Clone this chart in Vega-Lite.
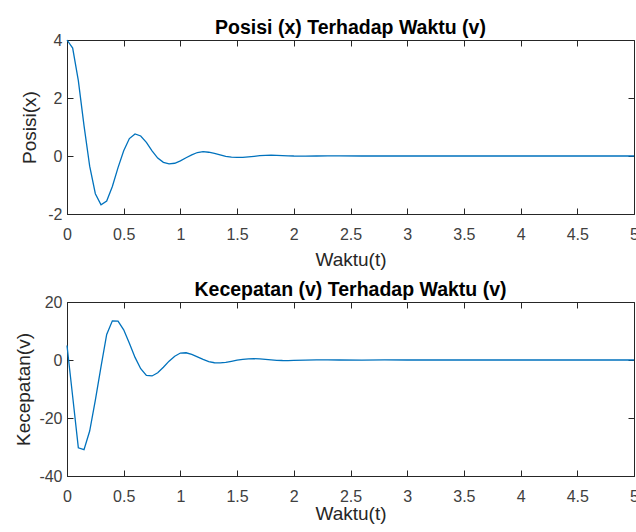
{
  "$schema": "https://vega.github.io/schema/vega-lite/v6.json",
  "autosize": {"type": "none"},
  "padding": {"left": 67, "top": 40, "right": 569, "bottom": 492},
  "background": "white",
  "bounds": "flush",
  "spacing": 88,
  "datasets": {
    "sim": [
      {"t": 0, "x": 4, "v": 5},
      {"t": 0.05, "x": 3.72, "v": -12.6},
      {"t": 0.10, "x": 2.6, "v": -30.3},
      {"t": 0.15, "x": 1.05, "v": -30.9},
      {"t": 0.20, "x": -0.35, "v": -24.5},
      {"t": 0.25, "x": -1.3, "v": -13.8},
      {"t": 0.30, "x": -1.68, "v": -2.3},
      {"t": 0.35, "x": -1.55, "v": 8.8},
      {"t": 0.40, "x": -1.05, "v": 13.5},
      {"t": 0.45, "x": -0.4, "v": 13.4},
      {"t": 0.50, "x": 0.18, "v": 10.4},
      {"t": 0.55, "x": 0.6, "v": 5.8},
      {"t": 0.60, "x": 0.76, "v": 0.9},
      {"t": 0.65, "x": 0.69, "v": -3.0},
      {"t": 0.70, "x": 0.47, "v": -5.3},
      {"t": 0.75, "x": 0.18, "v": -5.5},
      {"t": 0.80, "x": -0.07, "v": -4.4},
      {"t": 0.85, "x": -0.22, "v": -2.5},
      {"t": 0.90, "x": -0.27, "v": -0.4},
      {"t": 0.95, "x": -0.25, "v": 1.3},
      {"t": 1.00, "x": -0.17, "v": 2.4},
      {"t": 1.05, "x": -0.06, "v": 2.5},
      {"t": 1.10, "x": 0.04, "v": 1.95},
      {"t": 1.15, "x": 0.12, "v": 1.1},
      {"t": 1.20, "x": 0.15, "v": 0.2},
      {"t": 1.25, "x": 0.13, "v": -0.55},
      {"t": 1.30, "x": 0.09, "v": -0.95},
      {"t": 1.35, "x": 0.04, "v": -1.0},
      {"t": 1.40, "x": -0.01, "v": -0.8},
      {"t": 1.45, "x": -0.04, "v": -0.45},
      {"t": 1.50, "x": -0.05, "v": -0.07},
      {"t": 1.55, "x": -0.05, "v": 0.24},
      {"t": 1.60, "x": -0.03, "v": 0.42},
      {"t": 1.65, "x": -0.01, "v": 0.45},
      {"t": 1.70, "x": 0.01, "v": 0.36},
      {"t": 1.75, "x": 0.02, "v": 0.2},
      {"t": 1.80, "x": 0.025, "v": 0.03},
      {"t": 1.85, "x": 0.022, "v": -0.1},
      {"t": 1.90, "x": 0.015, "v": -0.18},
      {"t": 1.95, "x": 0.007, "v": -0.19},
      {"t": 2.00, "x": 0, "v": -0.15},
      {"t": 2.10, "x": -0.005, "v": -0.03},
      {"t": 2.20, "x": 0, "v": 0.06},
      {"t": 2.30, "x": 0.002, "v": 0.04},
      {"t": 2.40, "x": 0.002, "v": 0},
      {"t": 2.60, "x": 0, "v": -0.02},
      {"t": 2.80, "x": 0, "v": 0.01},
      {"t": 3.00, "x": 0, "v": 0},
      {"t": 3.50, "x": 0, "v": 0},
      {"t": 4.00, "x": 0, "v": 0},
      {"t": 4.50, "x": 0, "v": 0},
      {"t": 5.00, "x": 0, "v": 0}
    ]
  },
  "config": {
    "font": "Liberation Sans",
    "locale": {"number": {"decimal": ".", "thousands": ",", "grouping": [3], "currency": ["$", ""], "minus": "-"}},
    "view": {"stroke": "#262626", "strokeWidth": 1},
    "axis": {
      "labelFont": "Liberation Sans",
      "labelFontSize": 16,
      "labelColor": "#404040",
      "titleFont": "Liberation Sans",
      "titleFontSize": 19,
      "titleFontWeight": "normal",
      "titleColor": "#262626",
      "domainColor": "#262626",
      "tickColor": "#262626",
      "tickSize": -6,
      "grid": false,
      "labelOverlap": false,
      "labelFlush": false,
      "labelBound": false
    },
    "title": {
      "font": "Liberation Sans",
      "fontSize": 19.5,
      "fontWeight": "bold",
      "color": "#000000",
      "anchor": "middle",
      "frame": "group",
      "offset": 4,
      "dy": 10,
      "baseline": "alphabetic"
    }
  },
  "vconcat": [
    {
      "width": 567,
      "height": 174,
      "title": {"text": "Posisi (x) Terhadap Waktu (v)"},
      "data": {"name": "sim"},
      "layer": [
        {
          "mark": {"type": "line", "color": "#0072BD", "strokeWidth": 1.3},
          "encoding": {
            "x": {"field": "t", "type": "quantitative", "scale": {"domain": [0, 5], "nice": false},
                  "axis": {"orient": "bottom", "title": "Waktu(t)", "values": [0, 0.5, 1, 1.5, 2, 2.5, 3, 3.5, 4, 4.5, 5], "format": "~g", "labelPadding": 18, "titleY": 51, "titleBaseline": "alphabetic"}},
            "y": {"field": "x", "type": "quantitative", "scale": {"domain": [-2, 4], "nice": false},
                  "axis": {"orient": "left", "title": "Posisi(x)", "values": [-2, 0, 2, 4], "format": "d", "labelPadding": 11, "titleX": -38, "titleBaseline": "middle"}}
          }
        },
        {
          "mark": {"type": "line", "strokeOpacity": 0},
          "encoding": {
            "x": {"field": "t", "type": "quantitative", "scale": {"domain": [0, 5], "nice": false},
                  "axis": {"orient": "top", "title": null, "labels": false, "domain": false, "values": [0, 0.5, 1, 1.5, 2, 2.5, 3, 3.5, 4, 4.5, 5]}},
            "y": {"field": "x", "type": "quantitative", "scale": {"domain": [-2, 4], "nice": false},
                  "axis": {"orient": "right", "title": null, "labels": false, "domain": false, "values": [-2, 0, 2, 4]}}
          }
        }
      ]
    },
    {
      "width": 567,
      "height": 174,
      "title": {"text": "Kecepatan (v) Terhadap Waktu (v)"},
      "data": {"name": "sim"},
      "layer": [
        {
          "mark": {"type": "line", "color": "#0072BD", "strokeWidth": 1.3},
          "encoding": {
            "x": {"field": "t", "type": "quantitative", "scale": {"domain": [0, 5], "nice": false},
                  "axis": {"orient": "bottom", "title": "Waktu(t)", "values": [0, 0.5, 1, 1.5, 2, 2.5, 3, 3.5, 4, 4.5, 5], "format": "~g", "labelPadding": 18, "titleY": 43, "titleBaseline": "alphabetic"}},
            "y": {"field": "v", "type": "quantitative", "scale": {"domain": [-40, 20], "nice": false},
                  "axis": {"orient": "left", "title": "Kecepatan(v)", "values": [-40, -20, 0, 20], "format": "d", "labelPadding": 11, "titleX": -44, "titleBaseline": "middle"}}
          }
        },
        {
          "mark": {"type": "line", "strokeOpacity": 0},
          "encoding": {
            "x": {"field": "t", "type": "quantitative", "scale": {"domain": [0, 5], "nice": false},
                  "axis": {"orient": "top", "title": null, "labels": false, "domain": false, "values": [0, 0.5, 1, 1.5, 2, 2.5, 3, 3.5, 4, 4.5, 5]}},
            "y": {"field": "v", "type": "quantitative", "scale": {"domain": [-40, 20], "nice": false},
                  "axis": {"orient": "right", "title": null, "labels": false, "domain": false, "values": [-40, -20, 0, 20]}}
          }
        }
      ]
    }
  ]
}
